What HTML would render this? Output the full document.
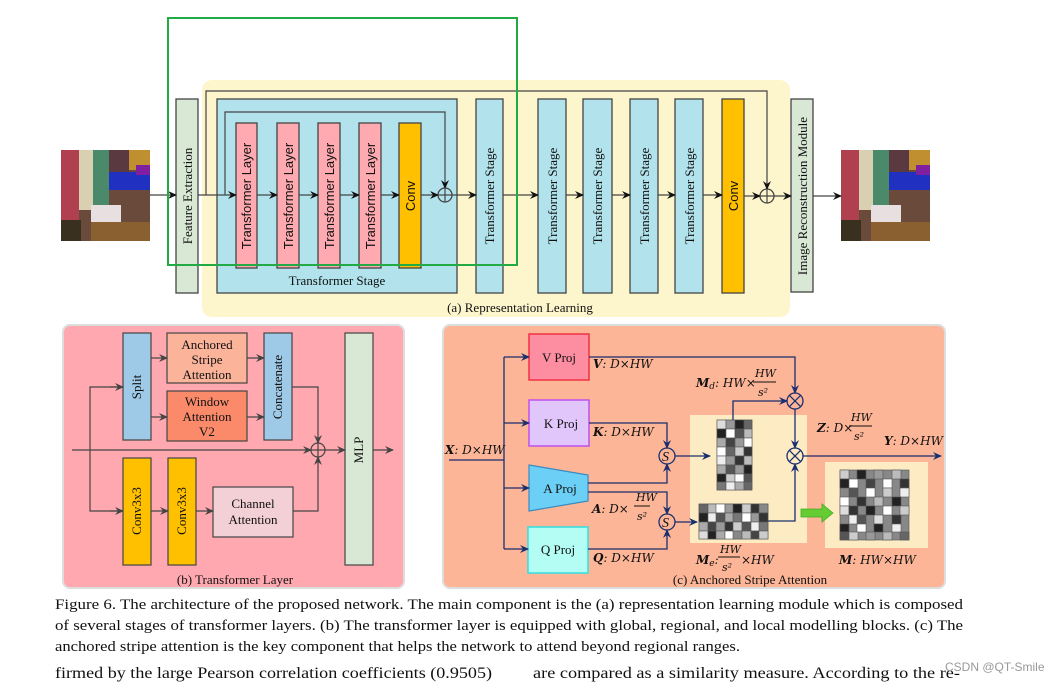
<!DOCTYPE html>
<html><head><meta charset="utf-8"><style>
html,body{margin:0;padding:0;background:#fff;width:1064px;height:684px;overflow:hidden}
svg{display:block;font-family:"Liberation Serif",serif}
.s{font-family:"Liberation Sans",sans-serif}
</style></head><body>
<svg width="1064" height="684" viewBox="0 0 1064 684" xmlns="http://www.w3.org/2000/svg">
<defs>
<marker id="a" markerWidth="10" markerHeight="10" refX="8" refY="5" orient="auto" markerUnits="userSpaceOnUse"><path d="M0,1 L9,5 L0,9 L3,5 z" fill="#111"/></marker>
<marker id="b" markerWidth="10" markerHeight="10" refX="8" refY="5" orient="auto" markerUnits="userSpaceOnUse"><path d="M0,1 L9,5 L0,9 L3,5 z" fill="#1a2f6e"/></marker>
<marker id="g" markerWidth="10" markerHeight="10" refX="8" refY="5" orient="auto" markerUnits="userSpaceOnUse"><path d="M0,1 L9,5 L0,9 L3,5 z" fill="#444"/></marker>
<g id="img">
<rect width="89" height="91" fill="#6a4a3a"/>
<rect x="0" y="0" width="18" height="70" fill="#b04050"/>
<rect x="18" y="0" width="14" height="60" fill="#d8d0b0"/>
<rect x="32" y="0" width="16" height="55" fill="#4a8a6a"/>
<rect x="48" y="0" width="20" height="25" fill="#5a3a40"/>
<rect x="68" y="0" width="21" height="20" fill="#c09030"/>
<rect x="48" y="22" width="41" height="18" fill="#2030c0"/>
<rect x="75" y="15" width="14" height="10" fill="#8020a0"/>
<rect x="30" y="55" width="30" height="22" fill="#e8e0e0"/>
<rect x="30" y="72" width="59" height="19" fill="#8a6030"/>
<rect x="0" y="70" width="20" height="21" fill="#3a3020"/>
</g>
</defs>

<!-- (a) -->
<rect x="202" y="80" width="588" height="237" rx="10" fill="#fdf5cc"/>
<use href="#img" x="61" y="150"/>
<use href="#img" x="841" y="150"/>
<g stroke="#444" stroke-width="1.3">
<rect x="176" y="99" width="22" height="194" fill="#d8e8d4"/>
<rect x="217" y="99" width="240" height="194" fill="#b2e3ec"/>
<rect x="236" y="123" width="21" height="145" fill="#ffaab0"/>
<rect x="277" y="123" width="22" height="145" fill="#ffaab0"/>
<rect x="318" y="123" width="22" height="145" fill="#ffaab0"/>
<rect x="359" y="123" width="22" height="145" fill="#ffaab0"/>
<rect x="399" y="123" width="22" height="145" fill="#ffc000"/>
<rect x="476" y="99" width="27" height="194" fill="#b2e3ec"/>
<rect x="538" y="99" width="28" height="194" fill="#b2e3ec"/>
<rect x="583" y="99" width="29" height="194" fill="#b2e3ec"/>
<rect x="630" y="99" width="28" height="194" fill="#b2e3ec"/>
<rect x="675" y="99" width="28" height="194" fill="#b2e3ec"/>
<rect x="722" y="99" width="22" height="194" fill="#ffc000"/>
<rect x="791" y="99" width="22" height="193" fill="#d8e8d4"/>
<circle cx="445" cy="195" r="7" fill="none"/>
<circle cx="767" cy="196" r="7" fill="none"/>
</g>
<g stroke="#444" stroke-width="1.2" fill="none">
<line x1="150" y1="195" x2="176" y2="195" marker-end="url(#a)"/>
<line x1="198" y1="195" x2="236" y2="195" marker-end="url(#a)"/>
<line x1="257" y1="195" x2="277" y2="195" marker-end="url(#a)"/>
<line x1="299" y1="195" x2="318" y2="195" marker-end="url(#a)"/>
<line x1="340" y1="195" x2="359" y2="195" marker-end="url(#a)"/>
<line x1="381" y1="195" x2="399" y2="195" marker-end="url(#a)"/>
<line x1="421" y1="195" x2="438" y2="195" marker-end="url(#a)"/>
<line x1="452" y1="195" x2="476" y2="195" marker-end="url(#a)"/>
<line x1="503" y1="195" x2="538" y2="195" marker-end="url(#a)"/>
<line x1="566" y1="195" x2="583" y2="195" marker-end="url(#a)"/>
<line x1="612" y1="195" x2="630" y2="195" marker-end="url(#a)"/>
<line x1="658" y1="195" x2="675" y2="195" marker-end="url(#a)"/>
<line x1="703" y1="195" x2="722" y2="195" marker-end="url(#a)"/>
<line x1="744" y1="196" x2="760" y2="196" marker-end="url(#a)"/>
<line x1="774" y1="196" x2="791" y2="196" marker-end="url(#a)"/>
<line x1="813" y1="196" x2="841" y2="196" marker-end="url(#a)"/>
<polyline points="225,195 225,112 445,112 445,188" marker-end="url(#a)"/>
<polyline points="206,195 206,91 767,91 767,189" marker-end="url(#a)"/>
<line x1="438" y1="195" x2="452" y2="195"/><line x1="445" y1="188" x2="445" y2="202"/>
<line x1="760" y1="196" x2="774" y2="196"/><line x1="767" y1="189" x2="767" y2="203"/>
</g>
<g font-size="13" fill="#111">
<text transform="translate(192,196) rotate(-90)" text-anchor="middle">Feature Extraction</text>
<text class="s" transform="translate(251,196) rotate(-90)" text-anchor="middle" font-size="13">Transformer Layer</text>
<text class="s" transform="translate(293,196) rotate(-90)" text-anchor="middle" font-size="13">Transformer Layer</text>
<text class="s" transform="translate(334,196) rotate(-90)" text-anchor="middle" font-size="13">Transformer Layer</text>
<text class="s" transform="translate(375,196) rotate(-90)" text-anchor="middle" font-size="13">Transformer Layer</text>
<text class="s" transform="translate(415,196) rotate(-90)" text-anchor="middle" font-size="13">Conv</text>
<text transform="translate(494,196) rotate(-90)" text-anchor="middle">Transformer Stage</text>
<text transform="translate(557,196) rotate(-90)" text-anchor="middle">Transformer Stage</text>
<text transform="translate(602,196) rotate(-90)" text-anchor="middle">Transformer Stage</text>
<text transform="translate(649,196) rotate(-90)" text-anchor="middle">Transformer Stage</text>
<text transform="translate(694,196) rotate(-90)" text-anchor="middle">Transformer Stage</text>
<text class="s" transform="translate(738,196) rotate(-90)" text-anchor="middle">Conv</text>
<text transform="translate(807,196) rotate(-90)" text-anchor="middle">Image Reconstruction Module</text>
<text x="337" y="285" text-anchor="middle">Transformer Stage</text>
<text x="520" y="312" text-anchor="middle">(a) Representation Learning</text>
</g>
<rect x="168" y="18" width="349" height="247" fill="none" stroke="#22aa44" stroke-width="2"/>

<!-- (b) -->
<rect x="63" y="325" width="341" height="263" rx="7" fill="#ffa8b0" stroke="#ddd" stroke-width="2"/>
<g stroke="#444" stroke-width="1.2">
<rect x="123" y="333" width="28" height="107" fill="#9ecae8"/>
<rect x="167" y="333" width="80" height="50" fill="#fbb49a"/>
<rect x="167" y="391" width="80" height="50" fill="#fa8a6a"/>
<rect x="264" y="333" width="28" height="107" fill="#9ecae8"/>
<rect x="345" y="333" width="28" height="232" fill="#d8e8d4"/>
<rect x="123" y="458" width="28" height="107" fill="#ffc000"/>
<rect x="168" y="458" width="28" height="107" fill="#ffc000"/>
<rect x="213" y="487" width="80" height="50" fill="#f3d0d6"/>
<circle cx="318" cy="450" r="7" fill="none"/>
</g>
<g stroke="#444" stroke-width="1.2" fill="none">
<line x1="72" y1="450" x2="311" y2="450" marker-end="url(#g)"/>
<line x1="325" y1="450" x2="345" y2="450" marker-end="url(#g)"/>
<line x1="373" y1="450" x2="393" y2="450" marker-end="url(#g)"/>
<polyline points="123,387 90,387 90,511 123,511" />
<line x1="110" y1="387" x2="123" y2="387" marker-end="url(#g)"/>
<line x1="110" y1="511" x2="123" y2="511" marker-end="url(#g)"/>
<line x1="151" y1="358" x2="167" y2="358" marker-end="url(#g)"/>
<line x1="151" y1="417" x2="167" y2="417" marker-end="url(#g)"/>
<line x1="247" y1="358" x2="264" y2="358" marker-end="url(#g)"/>
<line x1="247" y1="417" x2="264" y2="417" marker-end="url(#g)"/>
<line x1="151" y1="511" x2="168" y2="511" marker-end="url(#g)"/>
<line x1="196" y1="511" x2="213" y2="511" marker-end="url(#g)"/>
<polyline points="292,387 318,387 318,443" marker-end="url(#g)"/>
<polyline points="293,511 318,511 318,457" marker-end="url(#g)"/>
<line x1="311" y1="450" x2="325" y2="450"/><line x1="318" y1="443" x2="318" y2="457"/>
</g>
<g font-size="13" fill="#111" text-anchor="middle">
<text transform="translate(141,387) rotate(-90)">Split</text>
<text x="207" y="349">Anchored</text><text x="207" y="364">Stripe</text><text x="207" y="379">Attention</text>
<text x="207" y="406">Window</text><text x="207" y="421">Attention</text><text x="207" y="436">V2</text>
<text transform="translate(282,387) rotate(-90)">Concatenate</text>
<text transform="translate(363,450) rotate(-90)">MLP</text>
<text transform="translate(141,511) rotate(-90)">Conv3x3</text>
<text transform="translate(186,511) rotate(-90)">Conv3x3</text>
<text x="253" y="508">Channel</text><text x="253" y="524">Attention</text>
<text x="235" y="584">(b) Transformer Layer</text>
</g>

<!-- (c) -->
<rect x="443" y="325" width="502" height="263" rx="7" fill="#fdb597" stroke="#ddd" stroke-width="2"/>
<rect x="690" y="415" width="117" height="128" fill="#fdf2c8" opacity="0.9"/>
<rect x="825" y="462" width="103" height="86" fill="#fdf2c8" opacity="0.9"/>
<rect x="529" y="334" width="60" height="46" fill="#fd8da0" stroke="#ee3344" stroke-width="1.5"/>
<rect x="529" y="400" width="60" height="46" fill="#e1c6fb" stroke="#c050f0" stroke-width="1.5"/>
<polygon points="529,465 588,475 588,501 529,511" fill="#6ccff6" stroke="#3a8ac0" stroke-width="1.2"/>
<rect x="528" y="527" width="60" height="46" fill="#b3fdf4" stroke="#30e0e0" stroke-width="1.5"/>
<g id="m1">
<rect x="717" y="420" width="35" height="70" fill="#333"/>
</g>
<g fill="none" stroke="#1a2f6e" stroke-width="1.3">
<line x1="449" y1="460" x2="941" y2="460" stroke-opacity="0"/>
<line x1="449" y1="460" x2="504" y2="460"/>
<line x1="504" y1="357" x2="504" y2="549"/>
<line x1="504" y1="357" x2="529" y2="357" marker-end="url(#b)"/>
<line x1="504" y1="423" x2="529" y2="423" marker-end="url(#b)"/>
<line x1="504" y1="488" x2="529" y2="488" marker-end="url(#b)"/>
<line x1="504" y1="549" x2="528" y2="549" marker-end="url(#b)"/>
<polyline points="589,357 795,357 795,393" marker-end="url(#b)"/>
<polyline points="589,423 667,423 667,448" marker-end="url(#b)"/>
<polyline points="588,483 667,483 667,464" marker-end="url(#b)"/>
<polyline points="588,492 667,492 667,514" marker-end="url(#b)"/>
<polyline points="588,549 667,549 667,530" marker-end="url(#b)"/>
<line x1="675" y1="456" x2="710" y2="456" marker-end="url(#b)"/>
<line x1="675" y1="522" x2="697" y2="522" marker-end="url(#b)"/>
<polyline points="733,440 733,401 787,401" marker-end="url(#b)"/>
<line x1="795" y1="409" x2="795" y2="448" marker-end="url(#b)"/>
<polyline points="768,521 795,521 795,464" marker-end="url(#b)"/>
<line x1="803" y1="456" x2="941" y2="456" marker-end="url(#b)"/>
<circle cx="667" cy="456" r="8"/><circle cx="667" cy="522" r="8"/>
<circle cx="795" cy="401" r="8"/><circle cx="795" cy="456" r="8"/>
<path d="M789.3,395.3 L800.7,406.7 M800.7,395.3 L789.3,406.7 M789.3,450.3 L800.7,461.7 M800.7,450.3 L789.3,461.7"/>
</g>
<g id="mats" stroke="#555" stroke-width="0.6">
<!-- matrix 1: 4 cols x 8 rows, cell ~8.75 -->
<g transform="translate(717,420)">
<rect width="35" height="70" fill="#888"/>
<rect x="0" y="0" width="9" height="9" fill="#ddd"/><rect x="9" y="0" width="9" height="9" fill="#999"/><rect x="18" y="0" width="9" height="9" fill="#222"/><rect x="27" y="0" width="8" height="9" fill="#666"/>
<rect x="0" y="9" width="9" height="9" fill="#222"/><rect x="9" y="9" width="9" height="9" fill="#fff"/><rect x="18" y="9" width="9" height="9" fill="#555"/><rect x="27" y="9" width="8" height="9" fill="#bbb"/>
<rect x="0" y="18" width="9" height="9" fill="#aaa"/><rect x="9" y="18" width="9" height="9" fill="#444"/><rect x="18" y="18" width="9" height="9" fill="#999"/><rect x="27" y="18" width="8" height="9" fill="#fff"/>
<rect x="0" y="27" width="9" height="9" fill="#fff"/><rect x="9" y="27" width="9" height="9" fill="#666"/><rect x="18" y="27" width="9" height="9" fill="#ccc"/><rect x="27" y="27" width="8" height="9" fill="#333"/>
<rect x="0" y="36" width="9" height="9" fill="#eee"/><rect x="9" y="36" width="9" height="9" fill="#999"/><rect x="18" y="36" width="9" height="9" fill="#333"/><rect x="27" y="36" width="8" height="9" fill="#bbb"/>
<rect x="0" y="45" width="9" height="9" fill="#aaa"/><rect x="9" y="45" width="9" height="9" fill="#555"/><rect x="18" y="45" width="9" height="9" fill="#999"/><rect x="27" y="45" width="8" height="9" fill="#222"/>
<rect x="0" y="54" width="9" height="8" fill="#222"/><rect x="9" y="54" width="9" height="8" fill="#ccc"/><rect x="18" y="54" width="9" height="8" fill="#fff"/><rect x="27" y="54" width="8" height="8" fill="#555"/>
<rect x="0" y="62" width="9" height="8" fill="#777"/><rect x="9" y="62" width="9" height="8" fill="#eee"/><rect x="18" y="62" width="9" height="8" fill="#aaa"/><rect x="27" y="62" width="8" height="8" fill="#666"/>
</g>
<!-- matrix 2: 8 cols x 4 rows -->
<g transform="translate(699,504)">
<rect width="69" height="35" fill="#888"/>
<rect x="0" y="0" width="9" height="9" fill="#666"/><rect x="9" y="0" width="9" height="9" fill="#bbb"/><rect x="17" y="0" width="9" height="9" fill="#fff"/><rect x="26" y="0" width="9" height="9" fill="#999"/><rect x="34" y="0" width="9" height="9" fill="#222"/><rect x="43" y="0" width="9" height="9" fill="#ccc"/><rect x="52" y="0" width="9" height="9" fill="#333"/><rect x="60" y="0" width="9" height="9" fill="#888"/>
<rect x="0" y="9" width="9" height="9" fill="#222"/><rect x="9" y="9" width="9" height="9" fill="#eee"/><rect x="17" y="9" width="9" height="9" fill="#555"/><rect x="26" y="9" width="9" height="9" fill="#aaa"/><rect x="34" y="9" width="9" height="9" fill="#777"/><rect x="43" y="9" width="9" height="9" fill="#fff"/><rect x="52" y="9" width="9" height="9" fill="#999"/><rect x="60" y="9" width="9" height="9" fill="#333"/>
<rect x="0" y="18" width="9" height="9" fill="#aaa"/><rect x="9" y="18" width="9" height="9" fill="#444"/><rect x="17" y="18" width="9" height="9" fill="#999"/><rect x="26" y="18" width="9" height="9" fill="#333"/><rect x="34" y="18" width="9" height="9" fill="#ccc"/><rect x="43" y="18" width="9" height="9" fill="#555"/><rect x="52" y="18" width="9" height="9" fill="#eee"/><rect x="60" y="18" width="9" height="9" fill="#777"/>
<rect x="0" y="27" width="9" height="8" fill="#ddd"/><rect x="9" y="27" width="9" height="8" fill="#222"/><rect x="17" y="27" width="9" height="8" fill="#aaa"/><rect x="26" y="27" width="9" height="8" fill="#fff"/><rect x="34" y="27" width="9" height="8" fill="#888"/><rect x="43" y="27" width="9" height="8" fill="#bbb"/><rect x="52" y="27" width="9" height="8" fill="#444"/><rect x="60" y="27" width="9" height="8" fill="#ccc"/>
</g>
<!-- big matrix 8x8 -->
<g transform="translate(840,470)">
<rect width="69" height="70" fill="#888"/>
<rect x="0" y="0" width="9" height="9" fill="#ccc"/><rect x="17" y="0" width="9" height="9" fill="#222"/><rect x="34" y="0" width="9" height="9" fill="#999"/><rect x="52" y="0" width="9" height="9" fill="#bbb"/>
<rect x="0" y="9" width="9" height="9" fill="#222"/><rect x="9" y="9" width="9" height="9" fill="#fff"/><rect x="26" y="9" width="9" height="9" fill="#444"/><rect x="43" y="9" width="9" height="9" fill="#fff"/><rect x="60" y="9" width="9" height="9" fill="#333"/>
<rect x="9" y="18" width="9" height="9" fill="#555"/><rect x="26" y="18" width="9" height="9" fill="#fff"/><rect x="43" y="18" width="9" height="9" fill="#ccc"/><rect x="60" y="18" width="9" height="9" fill="#eee"/>
<rect x="0" y="27" width="9" height="9" fill="#fff"/><rect x="17" y="27" width="9" height="9" fill="#333"/><rect x="34" y="27" width="9" height="9" fill="#bbb"/><rect x="52" y="27" width="9" height="9" fill="#222"/>
<rect x="0" y="36" width="9" height="9" fill="#ddd"/><rect x="9" y="36" width="9" height="9" fill="#333"/><rect x="26" y="36" width="9" height="9" fill="#222"/><rect x="43" y="36" width="9" height="9" fill="#fff"/><rect x="60" y="36" width="9" height="9" fill="#ccc"/>
<rect x="9" y="45" width="9" height="9" fill="#eee"/><rect x="17" y="45" width="9" height="9" fill="#555"/><rect x="34" y="45" width="9" height="9" fill="#ddd"/><rect x="52" y="45" width="9" height="9" fill="#333"/>
<rect x="0" y="54" width="9" height="8" fill="#222"/><rect x="17" y="54" width="9" height="8" fill="#fff"/><rect x="34" y="54" width="9" height="8" fill="#222"/><rect x="52" y="54" width="9" height="8" fill="#eee"/>
<rect x="0" y="62" width="9" height="8" fill="#555"/><rect x="9" y="62" width="9" height="8" fill="#ccc"/><rect x="26" y="62" width="9" height="8" fill="#999"/><rect x="43" y="62" width="9" height="8" fill="#bbb"/><rect x="60" y="62" width="9" height="8" fill="#666"/>
</g>
</g>
<polygon points="801,509 822,509 822,504 833,513 822,522 822,517 801,517" fill="#66cc33" stroke="#44aa22" stroke-width="0.8"/>
<g fill="#111" font-size="13">
<text x="559" y="362" text-anchor="middle">V Proj</text>
<text x="561" y="428" text-anchor="middle">K Proj</text>
<text x="560" y="493" text-anchor="middle">A Proj</text>
<text x="558" y="554" text-anchor="middle">Q Proj</text>
<text x="662" y="461" font-style="italic" font-size="14">S</text>
<text x="662" y="527" font-style="italic" font-size="14">S</text>
<text x="750" y="584" text-anchor="middle">(c) Anchored Stripe Attention</text>
</g>
<g fill="#111" font-size="12" font-style="italic" font-family="'DejaVu Serif','Liberation Serif',serif">
<text x="593" y="368"><tspan font-weight="bold">V</tspan>: D×HW</text>
<text x="593" y="436"><tspan font-weight="bold">K</tspan>: D×HW</text>
<text x="445" y="454"><tspan font-weight="bold">X</tspan>: D×HW</text>
<text x="593" y="562"><tspan font-weight="bold">Q</tspan>: D×HW</text>
<text x="592" y="513"><tspan font-weight="bold">A</tspan>: D×</text>
<text x="636" y="501" font-size="11">HW</text><line x1="634" y1="506" x2="650" y2="506" stroke="#111"/><text x="637" y="520" font-size="11">s²</text>
<text x="696" y="387"><tspan font-weight="bold">M</tspan><tspan font-size="9" dy="2">d</tspan><tspan dy="-2">: HW×</tspan></text>
<text x="755" y="377" font-size="11">HW</text><line x1="753" y1="382" x2="776" y2="382" stroke="#111"/><text x="758" y="396" font-size="11">s²</text>
<text x="817" y="432"><tspan font-weight="bold">Z</tspan>: D×</text>
<text x="851" y="421" font-size="11">HW</text><line x1="849" y1="426" x2="872" y2="426" stroke="#111"/><text x="854" y="440" font-size="11">s²</text>
<text x="884" y="445"><tspan font-weight="bold">Y</tspan>: D×HW</text>
<text x="696" y="564"><tspan font-weight="bold">M</tspan><tspan font-size="9" dy="2">e</tspan><tspan dy="-2">:</tspan></text>
<text x="720" y="553" font-size="11">HW</text><line x1="718" y1="557" x2="740" y2="557" stroke="#111"/><text x="722" y="571" font-size="11">s²</text>
<text x="741" y="564">×HW</text>
<text x="839" y="564"><tspan font-weight="bold">M</tspan>: HW×HW</text>
</g>

<!-- caption -->
<g font-size="15" fill="#111">
<text x="55" y="609" textLength="908" lengthAdjust="spacingAndGlyphs">Figure 6.  The architecture of the proposed network.  The main component is the (a) representation learning module which is composed</text>
<text x="55" y="630" textLength="908" lengthAdjust="spacingAndGlyphs">of several stages of transformer layers.  (b) The transformer layer is equipped with global, regional, and local modelling blocks.  (c) The</text>
<text x="55" y="651" textLength="685" lengthAdjust="spacingAndGlyphs">anchored stripe attention is the key component that helps the network to attend beyond regional ranges.</text>
<text x="55" y="678" font-size="16" textLength="437" lengthAdjust="spacingAndGlyphs">firmed by the large Pearson correlation coefficients (0.9505)</text>
<text x="533" y="678" font-size="16" textLength="427" lengthAdjust="spacingAndGlyphs">are compared as a similarity measure.  According to the re-</text>
</g>
<text class="s" x="945" y="671" font-size="12" fill="#999">CSDN @QT-Smile</text>
</svg>
</body></html>
